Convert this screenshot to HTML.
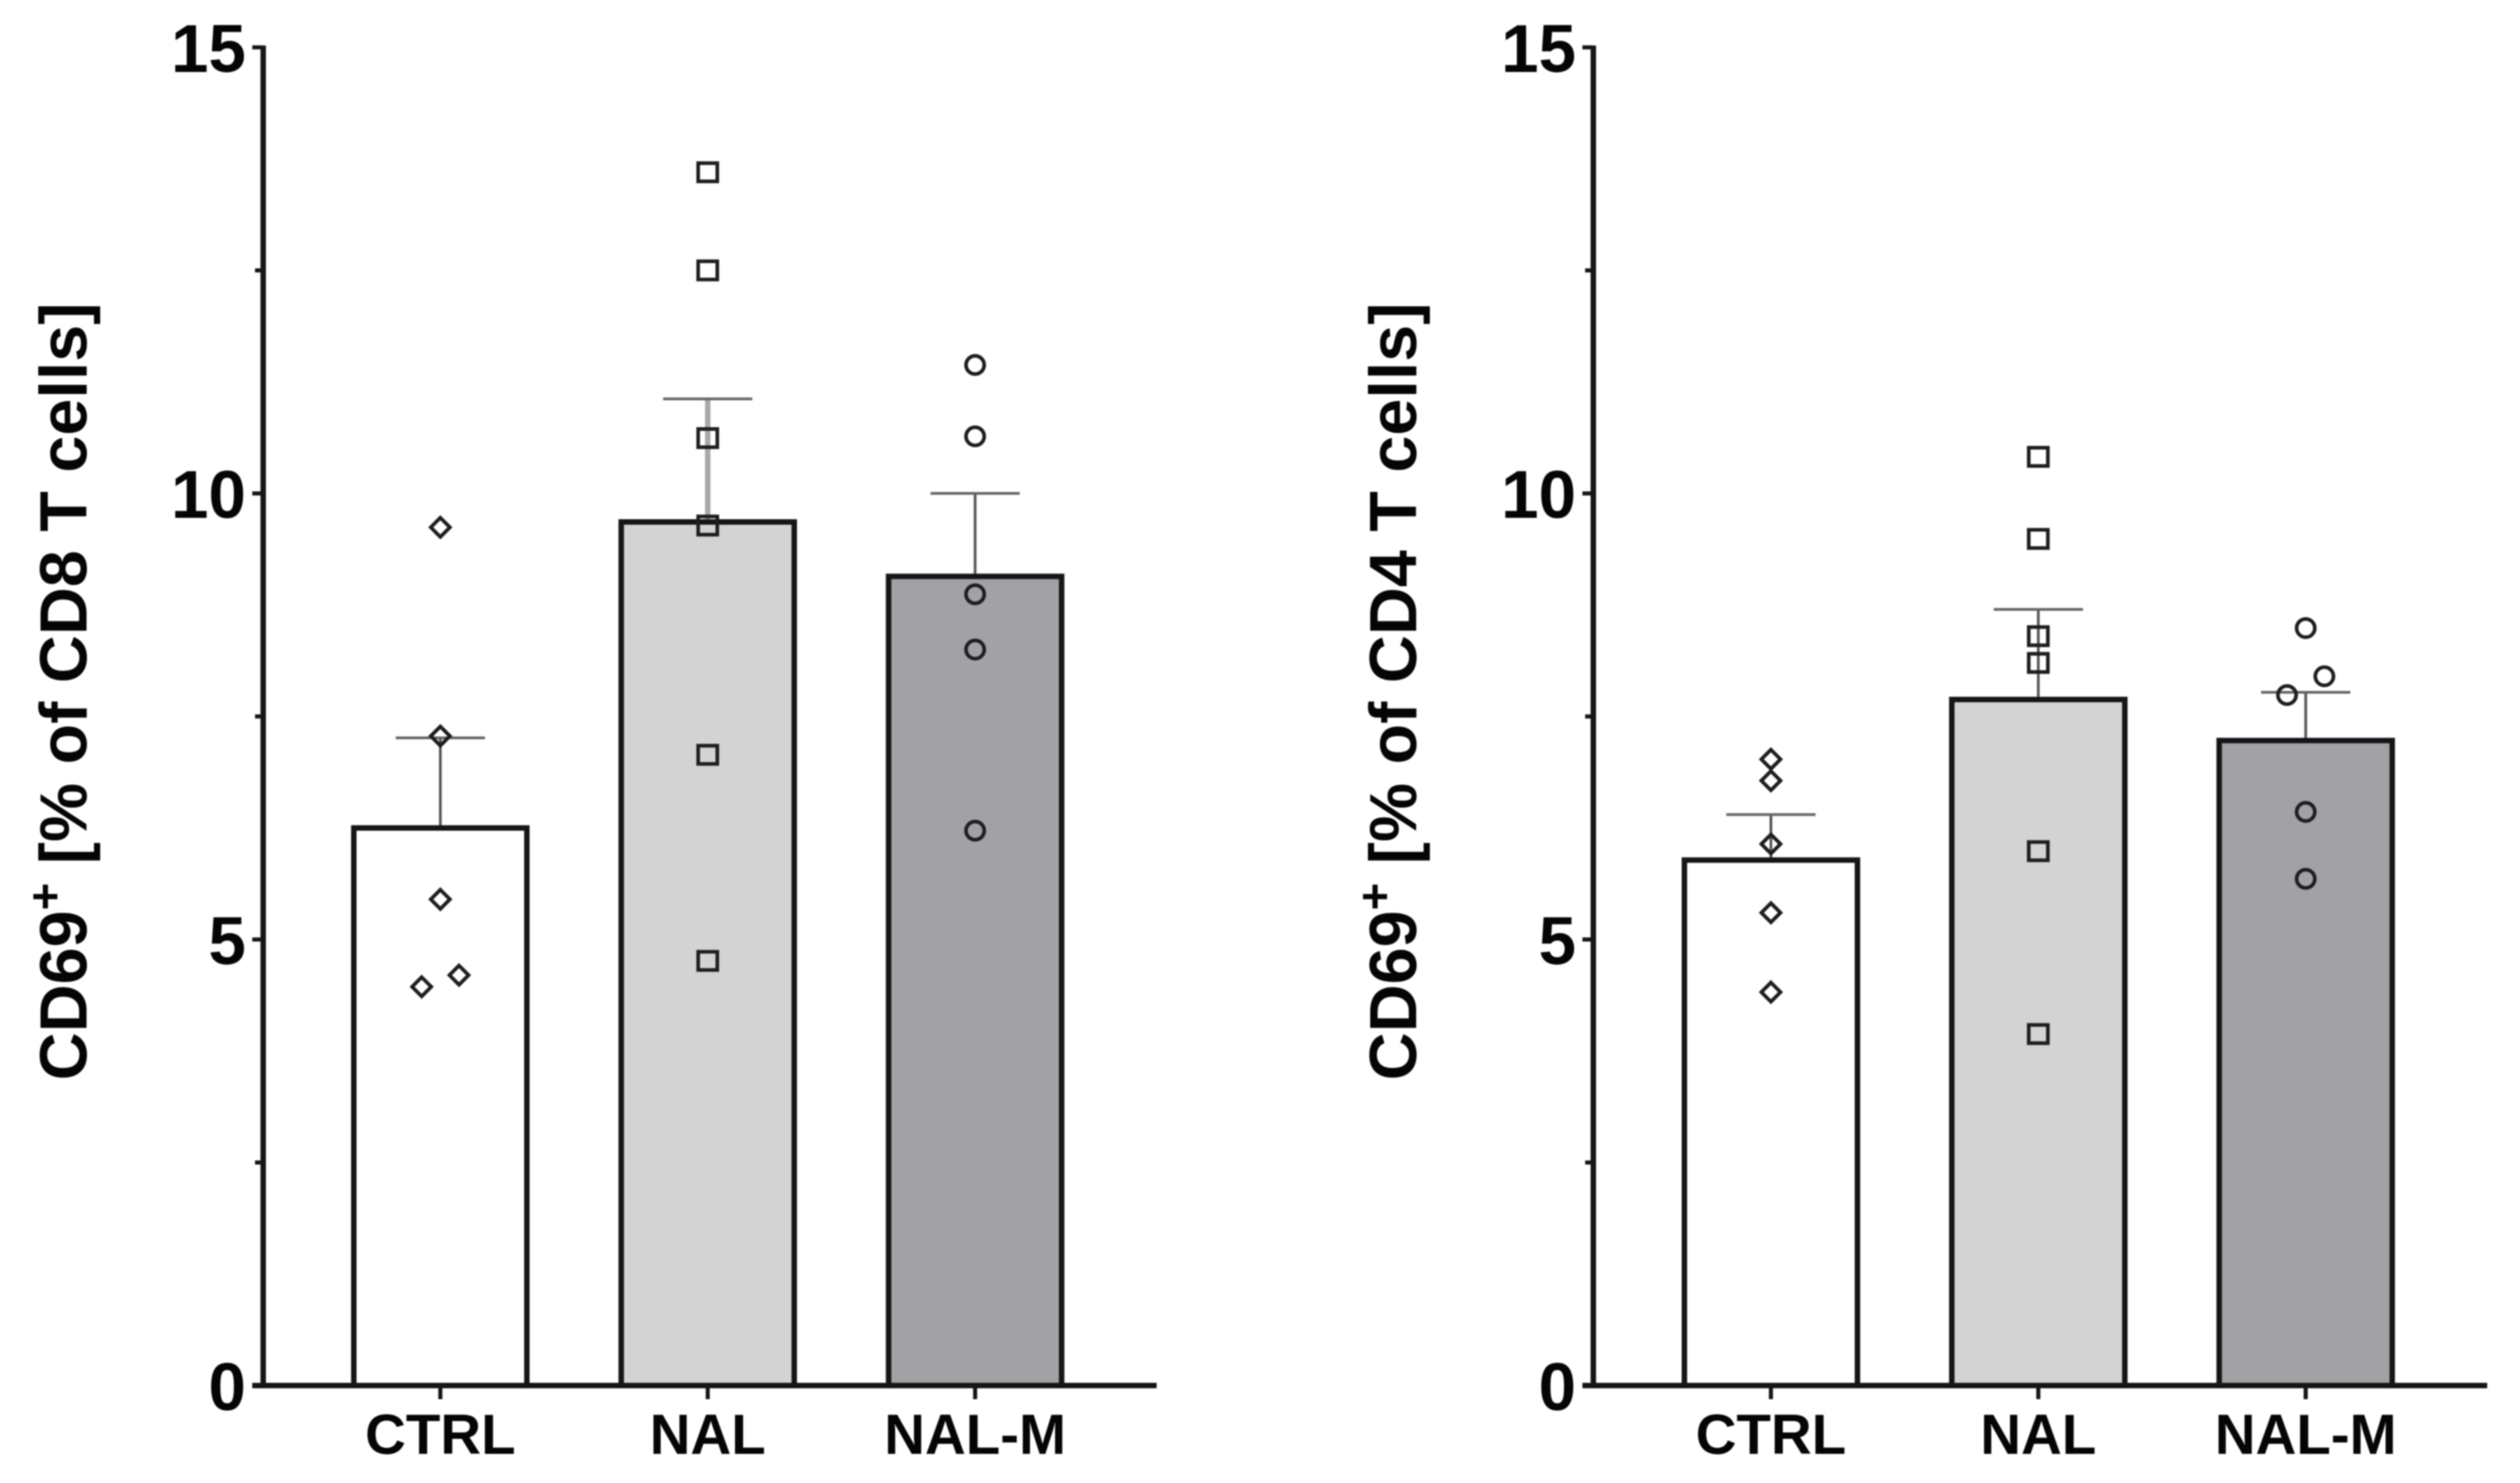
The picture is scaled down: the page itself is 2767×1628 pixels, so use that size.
<!DOCTYPE html>
<html lang="en">
<head>
<meta charset="utf-8">
<title>CD69+ T cell bar charts</title>
<style>
  html, body { margin: 0; padding: 0; background: #fff; }
  svg { display: block; filter: blur(0.8px); }
  text { font-family: "Liberation Sans", sans-serif; font-weight: 700; fill: #050505; }
</style>
</head>
<body>
<svg id="figure" xmlns="http://www.w3.org/2000/svg" width="2767" height="1628" viewBox="0 0 2767 1628">
  <rect x="0" y="0" width="2767" height="1628" fill="#ffffff"/>
  <g id="panel-cd8">
    <text transform="translate(95 1186) rotate(-90)" font-size="73">CD69<tspan font-size="52" dy="-28">+</tspan><tspan dy="28"> [% of CD8 T cells]</tspan></text>
  </g>
  <g id="panel-cd4">
    <text transform="translate(1555 1186) rotate(-90)" font-size="73">CD69<tspan font-size="52" dy="-28">+</tspan><tspan dy="28"> [% of CD4 T cells]</tspan></text>
  </g>
</svg>
<script>
const categories = ["CTRL", "NAL", "NAL-M"];
const yTickLabels = [0, 5, 10, 15];
const yMinorTicks = [2.5, 7.5, 12.5];

const cd8Means = [6.25, 9.68, 9.07];
const cd8Upper = [7.26, 11.06, 10.0];
const cd8Ctrl = [9.62, 7.28, 5.45, 4.6, 4.47];
const cd8CtrlSlots = [0, 0, 0, 1, -1];
const cd8Nal = [13.6, 12.5, 10.62, 9.64, 7.07, 4.76];
const cd8NalSlots = [0, 0, 0, 0, 0, 0];
const cd8NalM = [11.44, 10.64, 8.87, 8.25, 6.22];
const cd8NalMSlots = [0, 0, 0, 0, 0];

const cd4Means = [5.89, 7.69, 7.23];
const cd4Upper = [6.40, 8.70, 7.77];
const cd4Ctrl = [7.02, 6.78, 6.07, 5.30, 4.41];
const cd4CtrlSlots = [0, 0, 0, 0, 0];
const cd4Nal = [10.41, 9.49, 8.40, 8.10, 5.99, 3.94];
const cd4NalSlots = [0, 0, 0, 0, 0, 0];
const cd4NalM = [8.49, 7.95, 7.74, 6.43, 5.68];
const cd4NalMSlots = [0, 1, -1, 0, 0];

const SVG_NS = "http://www.w3.org/2000/svg";
const Y_ZERO = 1521;
const Y_TOP = 52;
const Y_MAX = 15;
const STEP = 293.6;
const BAR_HALF = 95;
const CAP_HALF = 49;
const SLOT = 20.5;
const INK = "#161616";
const FILLS = ["#ffffff", "#d3d3d3", "#a2a1a5"];

function yScale(v) {
  return Y_ZERO - (v / Y_MAX) * (Y_ZERO - Y_TOP);
}

function shape(parent, tag, attrs) {
  const el = document.createElementNS(SVG_NS, tag);
  for (const k in attrs) el.setAttribute(k, attrs[k]);
  parent.appendChild(el);
  return el;
}

function drawMarker(parent, kind, cx, cy) {
  const style = { fill: "none", stroke: "#1e1e1e", "stroke-width": 4 };
  if (kind === 0) {
    const d = 10.5;
    return shape(parent, "path", Object.assign({
      d: "M" + cx + " " + (cy - d) + "L" + (cx + d) + " " + cy + "L" + cx + " " + (cy + d) + "L" + (cx - d) + " " + cy + "Z"
    }, style));
  }
  if (kind === 1) {
    return shape(parent, "rect", Object.assign({ x: cx - 10.5, y: cy - 10, width: 21, height: 20 }, style));
  }
  return shape(parent, "circle", Object.assign({ cx: cx, cy: cy, r: 10 }, style));
}

function drawPanel(cfg) {
  const root = document.getElementById(cfg.id);
  const xScale = function (i) { return cfg.firstX + i * STEP; };

  cfg.means.forEach(function (mean, i) {
    const cx = xScale(i);
    const soft = cfg.softStem === i;
    const err = shape(root, "g", {});
    
    
    shape(err, "line", {
      x1: cx, x2: cx, y1: yScale(mean), y2: yScale(cfg.upper[i]),
      stroke: soft ? "#a8a8a8" : "#555555", "stroke-width": soft ? 6 : 3
    });
    shape(err, "line", { x1: cx - CAP_HALF, x2: cx + CAP_HALF, y1: yScale(cfg.upper[i]), y2: yScale(cfg.upper[i]), stroke: "#666666", "stroke-width": 3 });

    const bar = shape(root, "rect", {
      x: cx - BAR_HALF, y: yScale(mean), width: BAR_HALF * 2, height: Y_ZERO - yScale(mean),
      fill: FILLS[i], stroke: INK, "stroke-width": 6
    });
    
    
  });

  cfg.points.forEach(function (series, i) {
    series.forEach(function (v, j) {
      const pt = drawMarker(root, i, xScale(i) + cfg.slots[i][j] * SLOT, yScale(v));
      
      
    });
  });

  const yAxis = shape(root, "line", { x1: cfg.axisX, x2: cfg.axisX, y1: Y_TOP - 2, y2: Y_ZERO + 3, stroke: INK, "stroke-width": 6 });
  
  

  const xAxis = shape(root, "line", { x1: cfg.axisX - 12, x2: cfg.axisEnd, y1: Y_ZERO, y2: Y_ZERO, stroke: INK, "stroke-width": 6 });
  
  

  yTickLabels.forEach(function (t) {
    const tick = shape(root, "line", { x1: cfg.axisX - 12, x2: cfg.axisX, y1: yScale(t), y2: yScale(t), stroke: INK, "stroke-width": 4.5 });
    
    
    const label = shape(root, "text", { x: cfg.axisX - 19, y: yScale(t) + 27, "text-anchor": "end", "font-size": 74 });
    label.textContent = String(t);
    
    
  });

  yMinorTicks.forEach(function (t) {
    const tick = shape(root, "line", { x1: cfg.axisX - 9, x2: cfg.axisX, y1: yScale(t), y2: yScale(t), stroke: INK, "stroke-width": 4.5 });
    
    
  });

  categories.forEach(function (c, i) {
    const cx = xScale(i);
    const tick = shape(root, "line", { x1: cx, x2: cx, y1: Y_ZERO, y2: Y_ZERO + 15, stroke: INK, "stroke-width": 4.5 });
    
    
    const label = shape(root, "text", { x: cx, y: 1596, "text-anchor": "middle", "font-size": 62 });
    label.textContent = c;
    
    
  });
}

drawPanel({
  id: "panel-cd8", prefix: "cd8", axisX: 289, axisEnd: 1270, firstX: 483.5, softStem: 1,
  means: cd8Means, upper: cd8Upper,
  points: [cd8Ctrl, cd8Nal, cd8NalM],
  slots: [cd8CtrlSlots, cd8NalSlots, cd8NalMSlots]
});
drawPanel({
  id: "panel-cd4", prefix: "cd4", axisX: 1749.5, axisEnd: 2731, firstX: 1944.5, softStem: -1,
  means: cd4Means, upper: cd4Upper,
  points: [cd4Ctrl, cd4Nal, cd4NalM],
  slots: [cd4CtrlSlots, cd4NalSlots, cd4NalMSlots]
});
</script>
</body>
</html>
